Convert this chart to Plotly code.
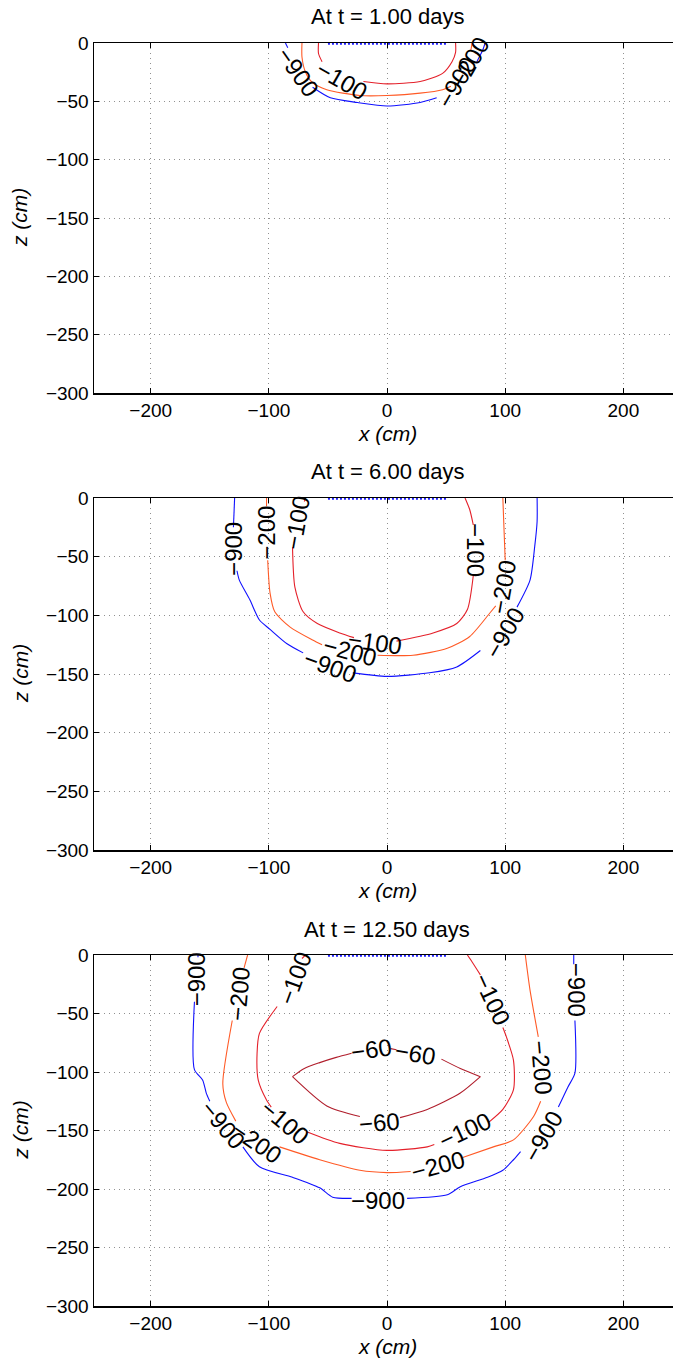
import plotly.graph_objects as go

# ---------------- data ----------------
TITLES = ["At t = 1.00 days", "At t = 6.00 days", "At t = 12.50 days"]
X_TICKS = [-200, -100, 0, 100, 200]
Z_TICKS = [-300, -250, -200, -150, -100, -50, 0]
LEVELS = [-900, -200, -100, -60]

# contour paths, (x cm, z cm); None = gap where the level label sits
# t = 1.00 days
P1_M900 = [(-86, 0), (-84, -4), None,
           (-63, -38), (-48, -47), (-25, -51), (0, -54), (28, -51), (42, -47), None,
           (76, -16), (81, -6), (83, 0)]
P1_M200 = [(-72, 0), (-72, -12), (-69, -25), (-63, -34), (-51, -40), (-23, -45), (0, -45),
           (28, -43), (47, -40), (54, -37), None,
           (71, -6), (72, 0)]
P1_M100 = [(-58, 0), (-58, -9), (-55, -16), None,
           (-20, -33), (0, -35), (28, -33), (47, -26), (55, -16), (58, -8), (58, 0)]
# t = 6.00 days
P2_M900 = [(-129, 0), (-130, -25), None,
           (-127, -62), (-125, -70), (-116, -87), (-108, -104), (-99, -112), (-85, -124),
           (-71, -132), None,
           (-29, -149), (0, -152), (36, -149), (59, -144), (79, -130), None,
           (110, -93), (121, -70), (125, -41), (127, -20), (127, 0)]
P2_M200 = [(-102, 0), (-102, -7), None,
           (-101, -53), (-99, -81), (-95, -97), (-82, -110), (-63, -121), (-55, -125), None,
           (-8, -134), (22, -134), (51, -128), (70, -118), (87, -98), (92, -92), None,
           (100, -53), (99, -27), (98, 0)]
P2_M100 = [(-69, 0), (-70, -3), None,
           (-80, -42), (-78, -76), (-71, -97), (-59, -107), (-40, -115), (-28, -119), None,
           (8, -122), (39, -115), (59, -107), (68, -95), (73, -66), None,
           (73, -23), (70, -10), (66, 0)]
# t = 12.50 days
P3_M900 = [(-160, 0), (-160, -2), None,
           (-163, -40), (-163, -98), (-156, -107), (-153, -118), (-150, -125), None,
           (-122, -164), (-108, -181), (-80, -190), (-57, -199), (-46, -207), (-30, -208), None,
           (17, -208), (51, -205), (62, -198), (85, -190), (98, -184), (107, -175), (113, -168), None,
           (145, -130), (153, -113), (159, -101), (159, -56), None,
           (158, -8), (158, 0)]
P3_M200 = [(-118, 0), (-121, -11), None,
           (-131, -56), (-139, -110), (-136, -126), (-128, -142), None,
           (-91, -164), (-57, -175), (-23, -184), (0, -186), (20, -185), None,
           (64, -173), (90, -164), (107, -158), (124, -138), (130, -125), None,
           (128, -70), (121, -30), (117, 0)]
P3_M100 = [(-69, 0), (-72, -3), None,
           (-93, -44), (-108, -67), (-110, -84), (-109, -107), (-102, -124), (-98, -130), None,
           (-68, -151), (-40, -161), (0, -167), (34, -164), (40, -162), None,
           (86, -143), (98, -132), (107, -115), (107, -90), (101, -70), (98, -62), None,
           (79, -17), (72, -6), (68, 0)]
P3_M60 = [(46, -89), (62, -97), (79, -104), None,
          (79, -104), (62, -118), (34, -132), (11, -139), None,
          (-23, -138), (-51, -129), (-80, -104), None,
          (-80, -104), (-70, -97), (-57, -92), (-43, -87.5), (-30, -84), None,
          (3, -80), (8, -81)]

# labels: (x, z, text, angle)
P1_LABELS = [(-75, -25, "−900", 55), (-38, -32, "−100", 30),
             (70, -17, "−200", -60), (59, -34, "−900", -60)]
P2_LABELS = [(-130, -43, "−900", -90), (-102, -30, "−200", -90), (-76, -21, "−100", -80),
             (-48, -144, "−900", 20), (-31, -131, "−200", 15), (-10, -123, "−100", 8),
             (75, -44, "−100", 90), (98, -76, "−200", -80), (100, -115, "−900", -60)]
P3_LABELS = [(-161, -21, "−900", -90), (-125, -33, "−200", -85), (-78, -20, "−100", -70),
             (-139, -145, "−900", 50), (-110, -160, "−200", 35), (-86, -143, "−100", 40),
             (-13, -81, "−60", -8), (24, -84, "−60", 10), (-6, -143, "−60", -5),
             (66, -150, "−100", -25), (43, -180, "−200", -15), (-8, -210, "−900", 0),
             (132, -155, "−900", -60), (131, -96, "−200", 85), (89, -38, "−100", 65),
             (161, -30, "−900", 90)]

# surface source segment (dotted blue at z = 0)
SOURCE_X = [-50, 50]
SOURCE_Z = [-0.6, -0.6]

PANELS = [
    {-900: P1_M900, -200: P1_M200, -100: P1_M100},
    {-900: P2_M900, -200: P2_M200, -100: P2_M100},
    {-900: P3_M900, -200: P3_M200, -100: P3_M100, -60: P3_M60},
]
PANEL_LABELS = [P1_LABELS, P2_LABELS, P3_LABELS]

# ---------------- styling ----------------
COLORS = {-900: "#1010ff", -200: "#ff5a26", -100: "#e4202a", -60: "#b01e2c"}
FONT = "Liberation Sans, Arial, Helvetica, sans-serif"
W, H = 673, 1363
L_MARGIN = 94
PLOT_W = W - L_MARGIN
# pixel tops/bottoms of the three plot areas
PIX = [(43, 393), (498, 850), (955, 1306)]


def split(path):
    xs, zs = [], []
    for p in path:
        if p is None:
            xs.append(None)
            zs.append(None)
        else:
            xs.append(p[0])
            zs.append(p[1])
    return xs, zs


fig = go.Figure()
annotations = []
for i, panel in enumerate(PANELS):
    xa = "x" if i == 0 else f"x{i+1}"
    ya = "y" if i == 0 else f"y{i+1}"
    fig.add_trace(go.Scatter(x=SOURCE_X, y=SOURCE_Z, mode="lines", xaxis=xa, yaxis=ya,
                             line=dict(color="#2020ff", width=2, dash="2px,2px"),
                             showlegend=False, hoverinfo="skip"))
    for lev in LEVELS:
        if lev not in panel:
            continue
        xs, zs = split(panel[lev])
        fig.add_trace(go.Scatter(x=xs, y=zs, mode="lines", xaxis=xa, yaxis=ya,
                                 line=dict(color=COLORS[lev], width=1.1, shape="spline",
                                           smoothing=0.7),
                                 connectgaps=False, showlegend=False, hoverinfo="skip"))
    for (lx, lz, txt, ang) in PANEL_LABELS[i]:
        annotations.append(dict(x=lx, y=lz, xref=xa, yref=ya, text=txt, showarrow=False,
                                textangle=ang, font=dict(family=FONT, size=24, color="black"),
                                xanchor="center", yanchor="middle"))
    top, bot = PIX[i]
    annotations.append(dict(x=0, xref=xa, y=1 - (top - 26) / H, yref="paper", text=TITLES[i],
                            showarrow=False, font=dict(family=FONT, size=22, color="black"),
                            xanchor="center", yanchor="middle"))
    annotations.append(dict(x=0, xref=xa, y=1 - (bot + 40) / H, yref="paper", text="<i>x (cm)</i>",
                            showarrow=False, font=dict(family=FONT, size=21, color="black"),
                            xanchor="center", yanchor="middle"))
    annotations.append(dict(x=(20 - L_MARGIN) / PLOT_W, xref="paper", y=1 - ((top + bot) / 2) / H,
                            yref="paper", text="<i>z (cm)</i>", textangle=-90, showarrow=False,
                            font=dict(family=FONT, size=21, color="black"),
                            xanchor="center", yanchor="middle"))

layout = dict(
    width=W, height=H,
    margin=dict(l=L_MARGIN, r=0, t=0, b=0, autoexpand=False),
    plot_bgcolor="white", paper_bgcolor="white",
    showlegend=False,
    annotations=annotations,
    font=dict(family=FONT, size=19, color="black"),
)
for i in range(3):
    top, bot = PIX[i]
    xk = "xaxis" if i == 0 else f"xaxis{i+1}"
    yk = "yaxis" if i == 0 else f"yaxis{i+1}"
    ya = "y" if i == 0 else f"y{i+1}"
    xa = "x" if i == 0 else f"x{i+1}"
    common = dict(showline=True, linecolor="black", linewidth=1.5,
                  ticks="inside", ticklen=5, tickcolor="black", tickwidth=1,
                  showgrid=True, gridcolor="#909090", griddash="1px,4px", gridwidth=1,
                  zeroline=False, tickfont=dict(family=FONT, size=19, color="black"))
    layout[xk] = dict(range=[-248, 242], tickvals=X_TICKS, anchor=ya, domain=[0, 1],
                      mirror="ticks", **common)
    layout[yk] = dict(range=[-300, 0], tickvals=Z_TICKS, anchor=xa,
                      domain=[1 - bot / H, 1 - top / H], mirror=False, **common)
fig.update_layout(**layout)
fig.write_html(
    "out.html",
    config={"displayModeBar": False, "staticPlot": True},
    post_script=(
        "document.documentElement.style.margin='0';"
        "document.documentElement.style.overflow='hidden';"
        "document.body.style.margin='0';"
        "document.body.style.overflow='hidden';"
        "var el=document.getElementById('{plot_id}');"
        "var p=el.parentElement;"
        "p.style.position='absolute';p.style.top='0px';p.style.left='0px';"
        "p.style.margin='0';"
    ),
)
